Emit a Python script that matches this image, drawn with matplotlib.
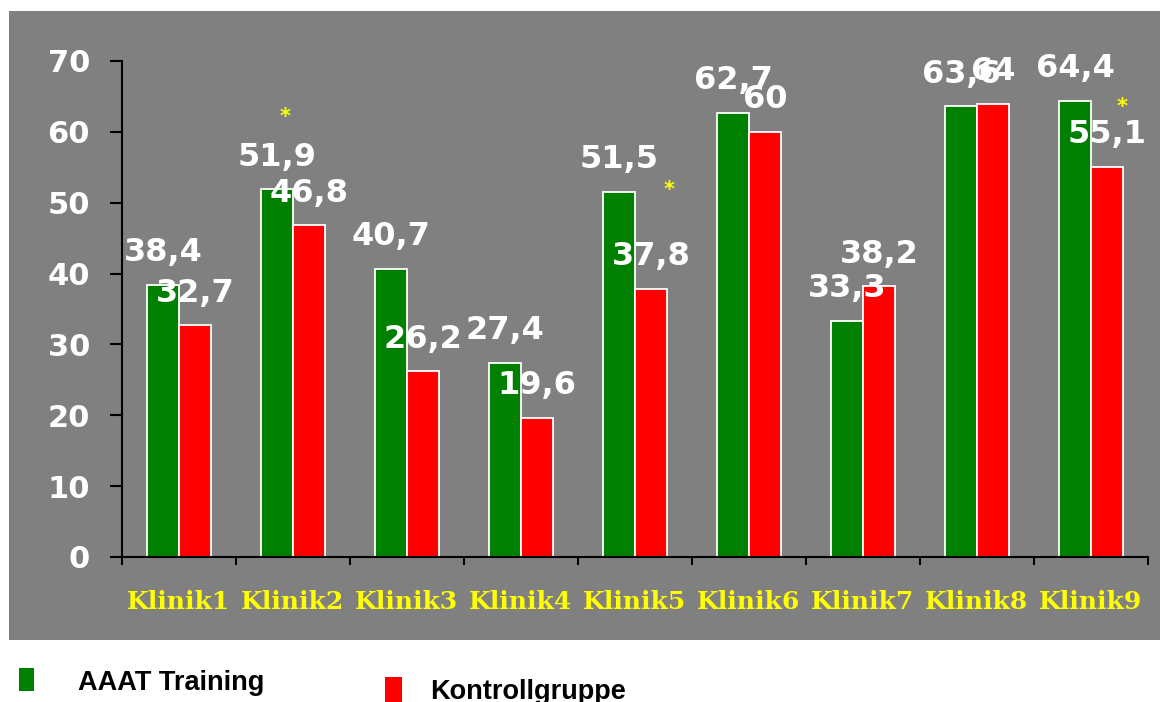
import matplotlib.pyplot as plt
from matplotlib.patches import Rectangle
import numpy as np

kliniken = ["Klinik1", "Klinik2", "Klinik3", "Klinik4", "Klinik5",
            "Klinik6", "Klinik7", "Klinik8", "Klinik9"]
aaat_training = [38.4, 51.9, 40.7, 27.4, 51.5, 62.7, 33.3, 63.6, 64.4]
kontrollgruppe = [32.7, 46.8, 26.2, 19.6, 37.8, 60, 38.2, 64, 55.1]

# significance markers: (x position in category units, height)
sig_x = [0.93, 4.30, 8.27]
sig_y = [62.1, 51.8, 63.5]

GREEN = "#008000"
RED = "#ff0000"
PANEL = "#808080"
YELLOW = "#ffff00"


def fmt(v):
    if float(v).is_integer():
        return f"{int(v)}"
    return f"{v:.1f}".replace(".", ",")


def main() -> None:
    fig = plt.figure(figsize=(11.6, 7.02), dpi=100)
    fig.patch.set_facecolor("white")

    # grey backdrop behind the plot area
    fig.add_artist(Rectangle((9 / 1160, 1 - 640 / 702), 1 - 9 / 1160, (640 - 11) / 702,
                             transform=fig.transFigure, facecolor=PANEL,
                             edgecolor="none", zorder=0))

    ax = fig.add_axes([122 / 1160, 1 - 557 / 702, (1148 - 122) / 1160, (557 - 61) / 702])
    ax.set_facecolor("none")

    x = np.arange(len(kliniken))
    width = 0.28
    bars1 = ax.bar(x - width / 2, aaat_training, width=width, color=GREEN,
                   edgecolor="white", linewidth=1.3, zorder=2)
    bars2 = ax.bar(x + width / 2, kontrollgruppe, width=width, color=RED,
                   edgecolor="white", linewidth=1.3, zorder=2)

    for bars, values in [(bars1, aaat_training), (bars2, kontrollgruppe)]:
        for bar, value in zip(bars, values):
            ax.annotate(fmt(value),
                        (bar.get_x() + bar.get_width() / 2, bar.get_height()),
                        xytext=(0, 12), textcoords="offset points",
                        ha="center", va="bottom", color="white",
                        fontsize=23, fontweight="bold", zorder=4)

    for sx, sy in zip(sig_x, sig_y):
        ax.text(sx, sy, "*", ha="center", va="center", color=YELLOW,
                fontsize=15, fontweight="bold", zorder=4)

    ax.set_xlim(-0.5, len(kliniken) - 0.5)
    ax.set_ylim(0, 70)
    ax.set_yticks(range(0, 71, 10))
    ax.set_xticks(np.arange(len(kliniken) + 1) - 0.5, minor=False)
    ax.set_xticklabels([])
    ax.set_xticks(x, minor=True)
    ax.set_xticklabels(kliniken, minor=True)

    ax.tick_params(axis="y", which="major", direction="out", length=9, width=1.5,
                   pad=14, labelsize=22, labelcolor="white", color="black")
    ax.tick_params(axis="x", which="major", direction="out", length=6, width=1.5)
    ax.tick_params(axis="x", which="minor", length=0, pad=24, labelsize=18,
                   labelcolor=YELLOW)
    for lbl in ax.get_yticklabels():
        lbl.set_fontweight("bold")
    for lbl in ax.get_xticklabels(minor=True):
        lbl.set_fontfamily("DejaVu Serif")
        lbl.set_fontweight("bold")

    for side in ["top", "right"]:
        ax.spines[side].set_visible(False)
    for side in ["left", "bottom"]:
        ax.spines[side].set_linewidth(1.5)
        ax.spines[side].set_color("black")

    # legend below the panel
    fig.add_artist(Rectangle((19 / 1160, 1 - 691 / 702), 15 / 1160, 23 / 702,
                             transform=fig.transFigure, facecolor=GREEN, edgecolor="none"))
    fig.text(78 / 1160, 1 - 683 / 702, "AAAT Training", fontfamily="Liberation Sans",
             fontweight="bold", fontsize=19.5, va="center", ha="left")
    fig.add_artist(Rectangle((385 / 1160, 0), 17 / 1160, 25 / 702,
                             transform=fig.transFigure, facecolor=RED, edgecolor="none"))
    fig.text(430 / 1160, 1 - 692 / 702, "Kontrollgruppe", fontfamily="Liberation Sans",
             fontweight="bold", fontsize=19.5, va="center", ha="left")

    fig.savefig("out.png", dpi=100)


if __name__ == "__main__":
    main()
